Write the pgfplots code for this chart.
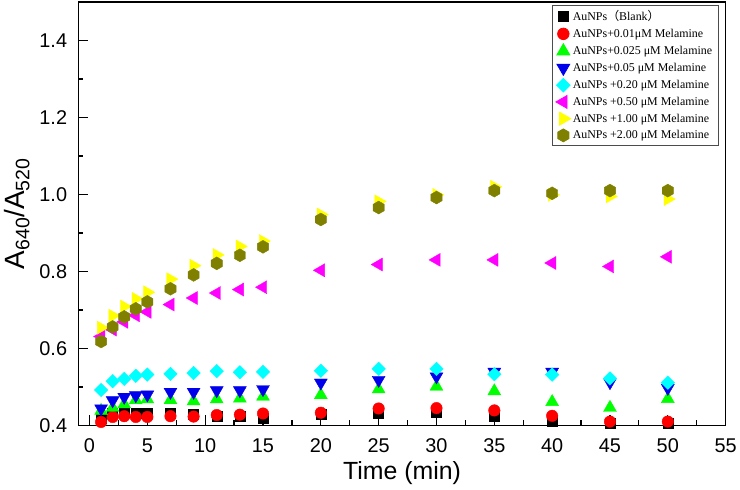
\documentclass[border=0pt]{standalone}
\usepackage{fontspec}
\setmainfont{Liberation Sans}
\newfontfamily\legendfont{Liberation Serif}
\newfontfamily\cjk{Noto Sans CJK SC}
\usepackage{pgfplots}
\usepackage{pgfplotstable}
\pgfplotsset{compat=1.18}
\definecolor{myblue}{RGB}{0,0,235}
\definecolor{myolive}{RGB}{128,128,0}
\definecolor{mycyan}{RGB}{0,255,255}
\definecolor{mymagenta}{RGB}{255,0,255}
\definecolor{myyellow}{RGB}{255,255,0}
\definecolor{mygreen}{RGB}{0,255,0}
\definecolor{myred}{RGB}{255,0,0}
\pgfdeclareplotmark{hexagon*}{%
  \pgfpathmoveto{\pgfqpointpolar{90}{\pgfplotmarksize}}%
  \pgfpathlineto{\pgfqpointpolar{150}{\pgfplotmarksize}}%
  \pgfpathlineto{\pgfqpointpolar{210}{\pgfplotmarksize}}%
  \pgfpathlineto{\pgfqpointpolar{270}{\pgfplotmarksize}}%
  \pgfpathlineto{\pgfqpointpolar{330}{\pgfplotmarksize}}%
  \pgfpathlineto{\pgfqpointpolar{30}{\pgfplotmarksize}}%
  \pgfpathclose
  \pgfusepathqfillstroke}
\pgfplotstableread{
t     blank  c001   c0025  c005   c020   c050   c100   c200
1     0.420  0.409  0.438  0.444  0.492  0.631  0.654  0.618
2     0.433  0.422  0.446  0.465  0.515  0.649  0.685  0.656
3     0.434  0.424  0.455  0.474  0.521  0.669  0.709  0.682
4     0.433  0.422  0.466  0.478  0.529  0.686  0.729  0.703
5     0.433  0.422  0.468  0.480  0.532  0.695  0.746  0.721
7     0.431  0.424  0.466  0.487  0.534  0.714  0.780  0.755
9     0.428  0.423  0.463  0.487  0.536  0.731  0.815  0.791
11    0.424  0.427  0.468  0.491  0.541  0.744  0.843  0.821
13    0.423  0.428  0.470  0.491  0.538  0.753  0.865  0.842
15    0.420  0.431  0.475  0.494  0.539  0.759  0.879  0.864
20    0.428  0.433  0.479  0.511  0.542  0.803  0.948  0.935
25    0.433  0.444  0.494  0.518  0.547  0.818  0.982  0.966
30    0.435  0.445  0.501  0.527  0.547  0.830  0.999  0.992
35    0.425  0.439  0.489  0.539  0.533  0.830  1.020  1.010
40    0.412  0.425  0.461  0.539  0.532  0.822  0.999  1.003
45    0.405  0.410  0.446  0.512  0.522  0.813  0.995  1.010
50    0.406  0.410  0.469  0.497  0.511  0.838  0.988  1.010
}\datatable
\begin{document}
\begin{tikzpicture}
\begin{axis}[
  scale only axis, width=651pt, height=426pt,
  xmin=-0.95, xmax=55, ymin=0.4, ymax=1.5,
  xtick={0,5,...,55}, minor x tick num=1,
  ytick={0.4,0.6,0.8,1.0,1.2,1.4}, minor ytick={0.5,0.7,0.9,1.1,1.3},
  tick align=inside, xtick pos=bottom, ytick pos=left,
  major tick length=10pt, minor tick length=5pt,
  axis line style={line width=1.5pt},
  every tick/.style={line width=1.2pt, black},
  /pgf/number format/assume math mode=true,
  ticklabel style={font=\fontsize{20}{20}\selectfont},
  yticklabel style={xshift=-8pt, /pgf/number format/.cd, fixed, fixed zerofill, precision=1},
  xticklabel style={yshift=-10pt},
  xlabel={Time (min)},
  ylabel={A\textsubscript{640}/A\textsubscript{520}},
  xlabel style={font=\fontsize{25}{25}\selectfont, yshift=-2pt},
  ylabel style={font=\fontsize{28}{28}\selectfont, yshift=3pt},
  legend style={at={(0.989,0.993)}, anchor=north east, draw=black!70, line width=0.8pt,
    font=\legendfont\fontsize{12}{12}\selectfont, row sep=3pt, inner ysep=3pt, inner xsep=4pt},
  legend cell align=left,
  only marks,
]
\addplot[mark=square*, mark size=5pt, mark options={fill=black, draw=black}] table[x=t, y=blank] {\datatable};
\addplot[mark=*, mark size=5.8pt, mark options={fill=myred, draw=myred}] table[x=t, y=c001] {\datatable};
\addplot[mark=triangle*, mark size=7.5pt, mark options={fill=mygreen, draw=mygreen}] table[x=t, y=c0025] {\datatable};
\addplot[mark=triangle*, mark size=7.5pt, mark options={fill=myblue, draw=myblue, rotate=180}] table[x=t, y=c005] {\datatable};
\addplot[mark=square*, mark size=4.8pt, mark options={fill=mycyan, draw=mycyan, rotate=45}] table[x=t, y=c020] {\datatable};
\addplot[mark=triangle*, mark size=7.5pt, mark options={fill=mymagenta, draw=mymagenta, rotate=90}] table[x=t, y=c050] {\datatable};
\addplot[mark=triangle*, mark size=7.5pt, mark options={fill=myyellow, draw=myyellow, rotate=-90}] table[x=t, y=c100] {\datatable};
\addplot[mark=hexagon*, mark size=6.5pt, mark options={fill=myolive, draw=myolive}] table[x=t, y=c200] {\datatable};
\legend{AuNPs{\cjk （}Blank{\cjk ）}, AuNPs+0.01μM Melamine, AuNPs+0.025 μM Melamine, AuNPs+0.05 μM Melamine, AuNPs +0.20 μM Melamine, AuNPs +0.50 μM Melamine, AuNPs +1.00 μM Melamine, AuNPs +2.00 μM Melamine}
\end{axis}
\path (current axis.south west) ++(-79pt,-64pt) rectangle ++(740pt,492pt);
\end{tikzpicture}
\end{document}
